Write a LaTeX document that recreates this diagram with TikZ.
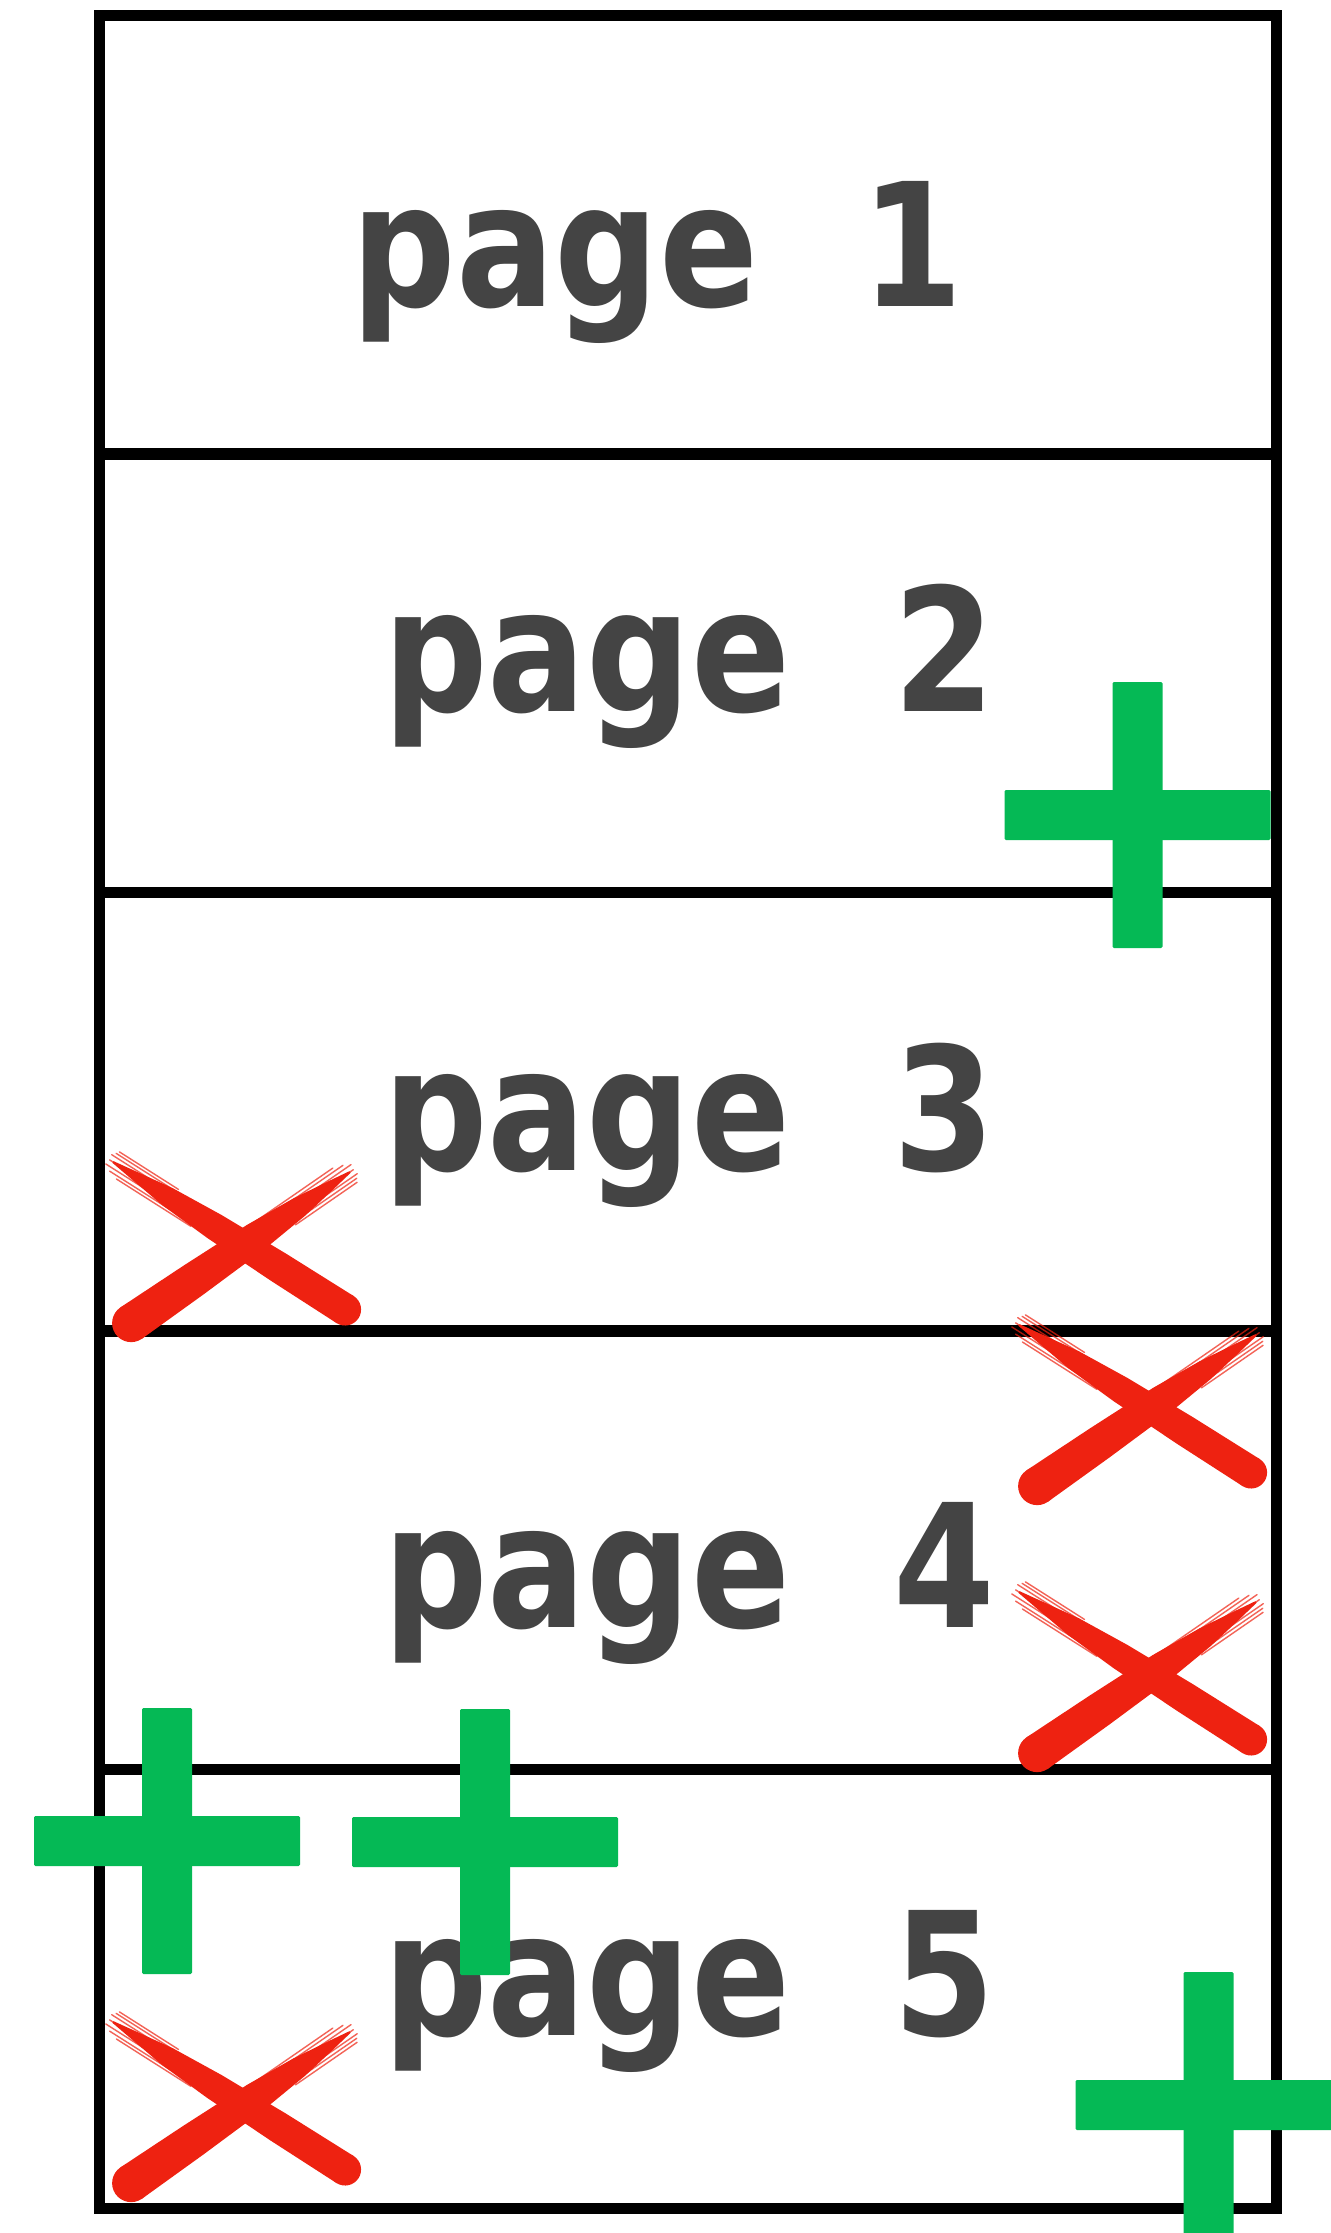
\documentclass[tikz,border=0pt]{standalone}
\usepackage{fontspec}
\newfontfamily\pagefont[FakeStretch=0.852]{DejaVu Sans}
\definecolor{inkgrey}{HTML}{444444}
\definecolor{plusgreen}{HTML}{05B955}
\definecolor{xred}{HTML}{EE2211}
\tikzset{
  pagebox/.style={draw=black, line width=3.1pt, inner sep=0pt, outer sep=0pt,
    minimum width=11.77cm, minimum height=4.385cm},
  pagelabel/.style={inner sep=0pt, anchor=base west, text=inkgrey,
    font=\pagefont\bfseries\fontsize{48.8}{50}\selectfont},
  brushfill/.style={fill=xred, draw=none},
  brushhair/.style={draw=xred, line width=0.4pt, opacity=0.7, line cap=round},
  plusbar/.style={fill=plusgreen, draw=none, rounded corners=0.4pt},
}
% stroke "\" : thin tip upper left, thick round end lower right
\newcommand\strokeA{%
  \begin{scope}[shift={(-124,-78)}, rotate=-32.44]
    \fill[brushfill] (0,1) -- (25,4.5) -- (65,10) -- (120,13.5) -- (196,15.5) -- (275,16)
      -- (275,-16) -- (196,-15.5) -- (120,-13.5) -- (65,-10) -- (25,-4.5) -- (0,-1) -- cycle;
    \fill[brushfill] (275,0) circle[radius=16];
    \draw[brushhair] (0,-12) -- (70,-12);
    \draw[brushhair] (-2,-9) -- (90,-9);
    \draw[brushhair] (-5,-5.5) -- (45,-5.5);
    \draw[brushhair] (-4,0) -- (30,0);
    \draw[brushhair] (-5,5.5) -- (50,5.5);
    \draw[brushhair] (2,9.5) -- (85,9.5);
    \draw[brushhair] (12,12.5) -- (100,12.5);
  \end{scope}}
% stroke "/" : thin tip upper right, thick round end lower left
\newcommand\strokeB{%
  \begin{scope}[shift={(113,-68)}, rotate=214.62]
    \fill[brushfill] (0,1) -- (25,5) -- (62,10.5) -- (115,15) -- (190,17.5) -- (266,19)
      -- (266,-19) -- (190,-17.5) -- (115,-15) -- (62,-10.5) -- (25,-5) -- (0,-1) -- cycle;
    \fill[brushfill] (266,0) circle[radius=19];
    \draw[brushhair] (0,-12.5) -- (75,-12.5);
    \draw[brushhair] (-2,-9) -- (95,-9);
    \draw[brushhair] (-5,-5.5) -- (45,-5.5);
    \draw[brushhair] (-4,0) -- (30,0);
    \draw[brushhair] (-5,5.5) -- (50,5.5);
    \draw[brushhair] (2,9.5) -- (90,9.5);
    \draw[brushhair] (12,13) -- (105,13);
  \end{scope}}
\newcommand\drawxmark[1]{%
  \begin{scope}[shift={#1}]
    \strokeA
    \strokeB
  \end{scope}}
\newcommand\drawplusmark[1]{%
  \begin{scope}[shift={#1}]
    \fill[plusbar] (-25,-133) rectangle (25,133);
    \fill[plusbar] (-133,-25) rectangle (133,25);
  \end{scope}}
\begin{document}
\begin{tikzpicture}[x=0.01cm, y=-0.01cm]
  \clip (0,0) rectangle (1331,2233);
  \fill[white] (0,0) rectangle (1331,2233);
  % page boxes
  \node[pagebox] (box1) at (688,234.75) {};
  \node[pagebox] (box2) at (688,673.25) {};
  \node[pagebox] (box3) at (688,1111.75) {};
  \node[pagebox] (box4) at (688,1550.25) {};
  \node[pagebox] (box5) at (688,1988.75) {};
  % labels
  \node[pagelabel] (lab1) at (350.7,306.7) {page\hspace{29.25pt}1};
  \node[pagelabel] (lab2) at (382.3,711.8) {page\hspace{29.45pt}2};
  \node[pagelabel] (lab3) at (382.3,1170) {page\hspace{29.45pt}3};
  \node[pagelabel] (lab4) at (382.3,1627) {page\hspace{29.45pt}4};
  \node[pagelabel] (lab5) at (382.3,2035) {page\hspace{29.45pt}5};
  % red crosses
  \drawxmark{(237,1240)}
  \drawxmark{(1143,1403)}
  \drawxmark{(1143,1670)}
  \drawxmark{(237,2100)}
  % green pluses
  \drawplusmark{(1137.5,815)}
  \drawplusmark{(167,1841)}
  \drawplusmark{(485,1842)}
  \drawplusmark{(1208.5,2105)}
\end{tikzpicture}
\end{document}
